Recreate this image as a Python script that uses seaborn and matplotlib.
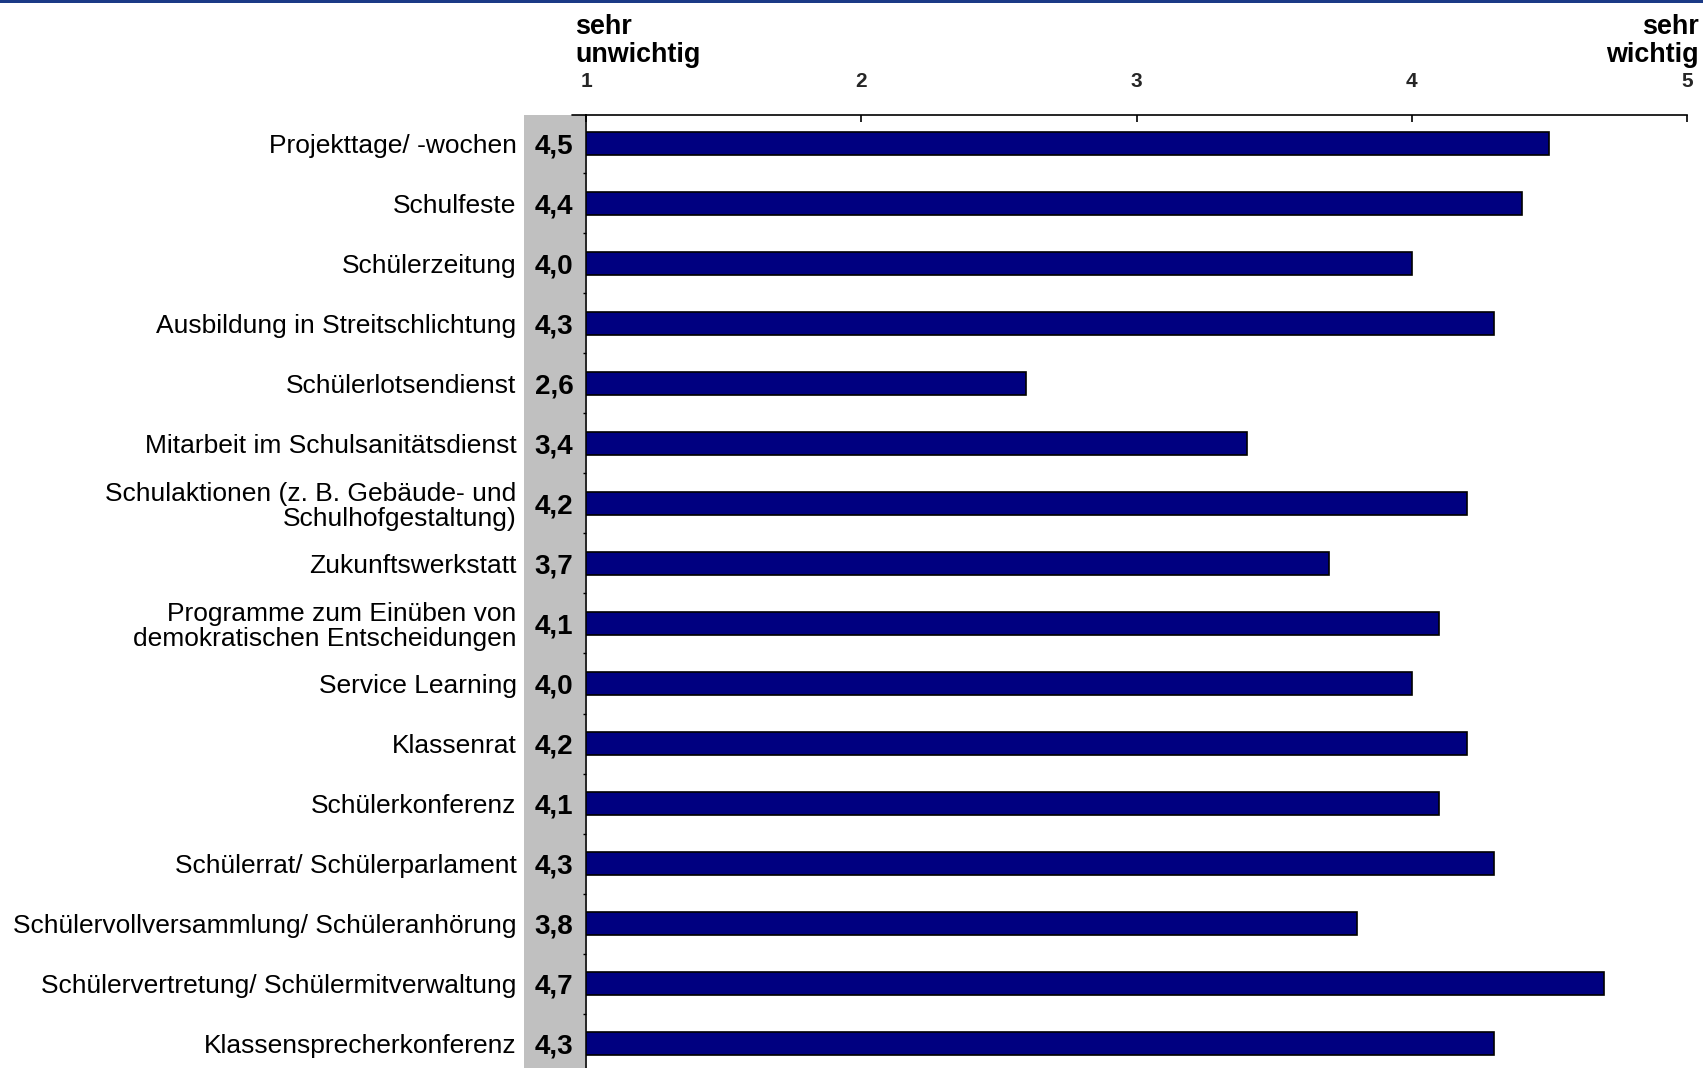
import matplotlib
matplotlib.use('Agg')
import matplotlib.pyplot as plt
from matplotlib.patches import Rectangle
from matplotlib.lines import Line2D
import pandas as pd
import seaborn as sns

# categories (top to bottom) and mean ratings (1 = sehr unwichtig, 5 = sehr wichtig)
categories = [
    'Projekttage/ -wochen',
    'Schulfeste',
    'Schülerzeitung',
    'Ausbildung in Streitschlichtung',
    'Schülerlotsendienst',
    'Mitarbeit im Schulsanitätsdienst',
    'Schulaktionen (z. B. Gebäude- und\nSchulhofgestaltung)',
    'Zukunftswerkstatt',
    'Programme zum Einüben von\ndemokratischen Entscheidungen',
    'Service Learning',
    'Klassenrat',
    'Schülerkonferenz',
    'Schülerrat/ Schülerparlament',
    'Schülervollversammlung/ Schüleranhörung',
    'Schülervertretung/ Schülermitverwaltung',
    'Klassensprecherkonferenz',
]
ratings = [4.5, 4.4, 4.0, 4.3, 2.6, 3.4, 4.2, 3.7, 4.1, 4.0, 4.2, 4.1, 4.3, 3.8, 4.7, 4.3]
scale_ticks = [1, 2, 3, 4, 5]

df = pd.DataFrame({'Kategorie': categories, 'Wert': ratings})

sns.set_theme(style='white')
plt.rcParams['font.family'] = ['Liberation Sans', 'DejaVu Sans']

fig = plt.figure(figsize=(17.03, 10.68), dpi=100)
fig.patch.set_facecolor('white')
ax = fig.add_axes([586 / 1703, 0.0, 1101 / 1703, 1 - 115 / 1068])

sns.barplot(data=df, x='Wert', y='Kategorie', orient='h', color='#000080',
            width=0.39, edgecolor='black', linewidth=1.2, saturation=1, ax=ax)

ax.set_xlim(1, 5)
ax.set_ylim(15.407, -0.473)
ax.set_xlabel('')
ax.set_ylabel('')

# value axis on top
ax.xaxis.tick_top()
ax.set_xticks(scale_ticks)
ax.set_xticklabels([str(t) for t in scale_ticks], fontsize=15, fontweight='bold')
ax.tick_params(axis='x', which='major', direction='in', length=5, width=1.2,
               color='black', pad=17, top=True, bottom=False)

# category labels
ax.tick_params(axis='y', which='major', length=0, pad=50, labelsize=19)
for lbl in ax.get_yticklabels():
    lbl.set_linespacing(1.05)
    lbl.set_color('black')
ax.set_yticks([i + 0.5 for i in range(len(categories) - 1)], minor=True)
ax.tick_params(axis='y', which='minor', direction='out', length=2, width=1,
               color='black', left=True)

for side in ['right', 'bottom']:
    ax.spines[side].set_visible(False)
for side in ['top', 'left']:
    ax.spines[side].set_visible(True)
    ax.spines[side].set_color('black')
    ax.spines[side].set_linewidth(1.2)

# extend top axis line a bit to the left
ax.add_line(Line2D([-14 / 1101, 0], [1, 1], transform=ax.transAxes,
                   color='black', lw=1.2, clip_on=False))

# grey band with values
ax.add_patch(Rectangle((-62 / 1101, 0), 61 / 1101, 1, transform=ax.transAxes,
                       facecolor='#c0c0c0', edgecolor='none', clip_on=False, zorder=0))
for i, v in enumerate(ratings):
    ax.text(-32 / 1101, i, f'{v:.1f}'.replace('.', ','), transform=ax.get_yaxis_transform(),
            ha='center', va='center_baseline', fontsize=20, fontweight='bold', color='black')

# scale end labels
fig.text(575 / 1703, 1 - 14 / 1068, 'sehr\nunwichtig', ha='left', va='top',
         fontsize=19.4, fontweight='bold', color='black', linespacing=1.1)
fig.text(1699 / 1703, 1 - 14 / 1068, 'sehr\nwichtig', ha='right', va='top',
         multialignment='right', fontsize=19.4, fontweight='bold', color='black',
         linespacing=1.1)

# thin blue line at the top edge
fig.patches.append(Rectangle((0, 1 - 3 / 1068), 1, 3 / 1068, transform=fig.transFigure,
                             facecolor='#1b3a86', edgecolor='none', figure=fig))

fig.savefig('out.png', dpi=100, facecolor='white')
